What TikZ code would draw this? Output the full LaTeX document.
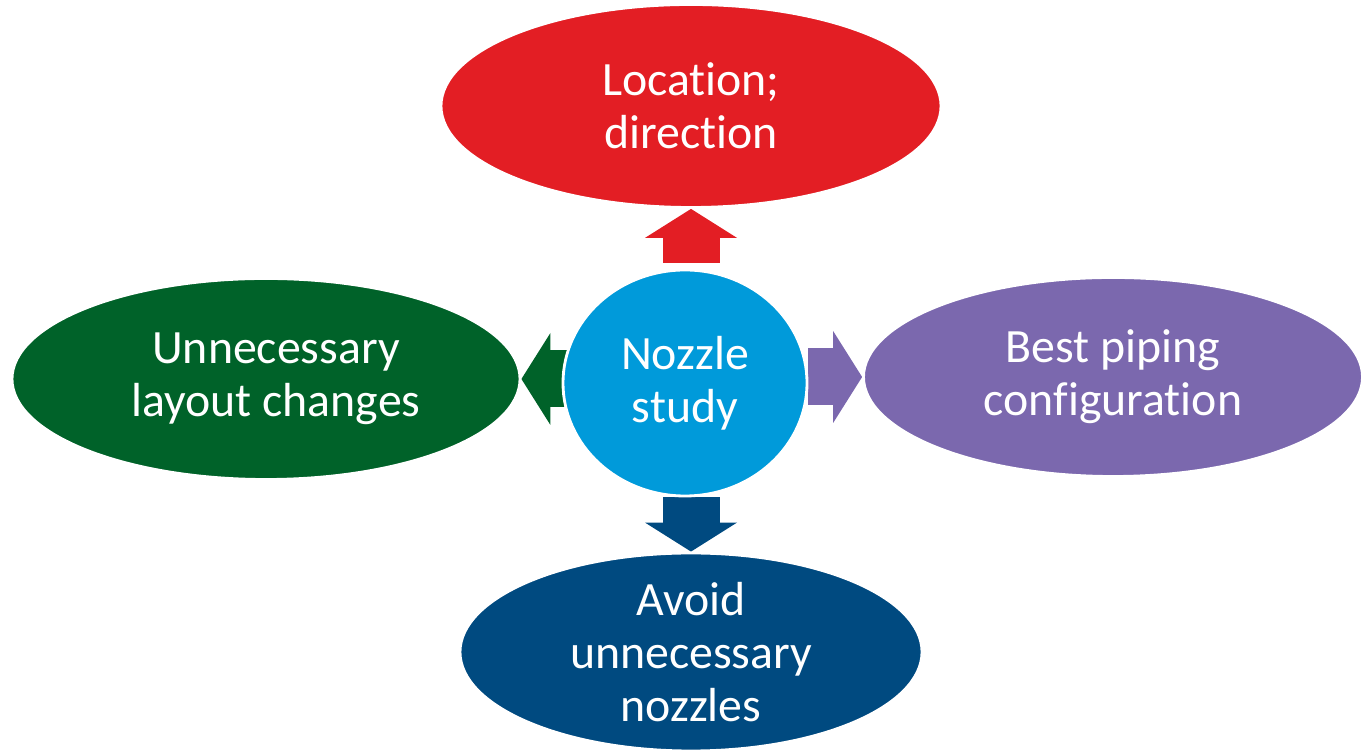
\documentclass[tikz,border=0pt]{standalone}
\usepackage{fontspec}
\setmainfont[Ligatures={NoCommon,NoRare,NoContextual},Contextuals=NoAlternate]{Carlito}
\usepackage{tikz}
\usetikzlibrary{arrows.meta,backgrounds,calc,shapes.geometric}

\definecolor{locred}{RGB}{227,30,36}
\definecolor{hubblue}{RGB}{0,154,218}
\definecolor{laygreen}{RGB}{0,98,41}
\definecolor{pippurple}{RGB}{123,104,174}
\definecolor{avoblue}{RGB}{0,74,128}

\begin{document}
\begin{tikzpicture}[
  every node/.style={font=\fontsize{13.6}{15}\selectfont,align=center,text=white},
  bubble/.style={ellipse,draw=white,line width=0.8pt,inner sep=0pt},
  push/.style={line width=0.57cm,
               -{Triangle[width=0.92cm,length=0.29cm,line width=0pt]}}
]
  \useasboundingbox (0,0) rectangle (13.63,7.51);

  \node[bubble,fill=locred,minimum width=5.00cm,minimum height=2.03cm]
    (loc) at (6.91,6.45) {Location;\\direction};
  \node[bubble,fill=hubblue,minimum width=2.44cm,minimum height=2.26cm]
    (hub) at (6.85,3.68) {Nozzle\\study};
  \node[bubble,fill=laygreen,minimum width=5.08cm,minimum height=2.01cm]
    (lay) at (2.66,3.72) {\hspace*{0.2cm}Unnecessary\\\hspace*{0.2cm}layout changes};
  \node[bubble,fill=pippurple,minimum width=4.99cm,minimum height=1.99cm]
    (pip) at (11.13,3.74) {Best piping\\configuration};
  \node[bubble,fill=avoblue,minimum width=4.62cm,minimum height=1.98cm]
    (avo) at (6.91,0.99) {Avoid\\unnecessary\\nozzles};

  \begin{scope}[on background layer]
    \draw[push,locred,shorten <=0.06cm] (loc.south |- hub.north) -- (loc.south);
    \draw[push,laygreen] ($(hub.west |- lay.east)+(0.05,0)$) -- (lay.east);
    \draw[push,pippurple] (hub.east |- pip.west) -- (pip.west);
    \draw[push,avoblue] (avo.north |- hub.south) -- (avo.north);
  \end{scope}
\end{tikzpicture}
\end{document}
